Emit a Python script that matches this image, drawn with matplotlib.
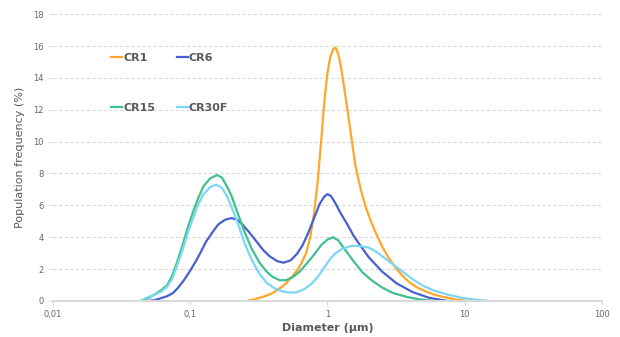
import numpy as np
import matplotlib.pyplot as plt
from matplotlib.ticker import FixedLocator, FixedFormatter, NullLocator

# CR1
cr1_x = [0.26, 0.3, 0.35, 0.4, 0.45, 0.5, 0.55, 0.6, 0.65, 0.7, 0.75, 0.8, 0.85, 0.9,
         0.95, 1.0, 1.05, 1.1, 1.15, 1.2, 1.25, 1.32, 1.4, 1.5, 1.6, 1.75, 1.9, 2.1,
         2.3, 2.55, 2.8, 3.2, 3.6, 4.0, 4.5, 5.2, 6, 7, 8.5, 10.5]
cr1_y = [0, 0.12, 0.3, 0.5, 0.8, 1.1, 1.5, 1.9, 2.4, 3.0, 4.0, 5.5, 7.5, 10.0,
         12.5, 14.3, 15.3, 15.8, 15.9, 15.5, 14.8, 13.5, 12.0, 10.2, 8.5, 7.0, 5.9, 4.9,
         4.1, 3.3, 2.7, 2.0, 1.5, 1.15, 0.85, 0.6, 0.4, 0.25, 0.1, 0]

# CR6
cr6_x = [0.05, 0.055, 0.06, 0.068, 0.075, 0.082, 0.09, 0.1, 0.11, 0.12, 0.13, 0.145,
         0.16, 0.18, 0.2, 0.22, 0.24, 0.27, 0.3, 0.34, 0.38, 0.43, 0.48, 0.54, 0.6,
         0.66, 0.72, 0.8, 0.88, 0.95, 1.0, 1.06, 1.15, 1.25, 1.4, 1.55, 1.7, 2.0, 2.5,
         3.2, 4.2, 5.5, 7.5]
cr6_y = [0, 0.05, 0.15, 0.3, 0.5, 0.85, 1.3, 1.9, 2.5, 3.1, 3.7, 4.3,
         4.8, 5.1, 5.2, 5.1, 4.8, 4.3, 3.8, 3.2, 2.8, 2.5, 2.4, 2.55, 2.95,
         3.5, 4.2, 5.2, 6.1, 6.55, 6.7, 6.6, 6.1, 5.5, 4.8, 4.1, 3.6, 2.75, 1.85,
         1.1, 0.55, 0.2, 0]

# CR15
cr15_x = [0.045, 0.05, 0.055, 0.062, 0.068, 0.074, 0.08, 0.088, 0.096, 0.105, 0.115,
          0.125, 0.14, 0.157, 0.17, 0.185, 0.2, 0.22, 0.25, 0.28, 0.32, 0.36, 0.4,
          0.45, 0.5, 0.56, 0.63, 0.7, 0.8, 0.9, 1.0, 1.1, 1.2, 1.35, 1.55, 1.8, 2.1,
          2.5, 3.0, 3.8, 4.7, 5.9]
cr15_y = [0, 0.2, 0.4, 0.7, 1.0, 1.6, 2.4, 3.5, 4.6, 5.6, 6.5,
          7.2, 7.7, 7.9, 7.75, 7.2, 6.6, 5.6, 4.3, 3.3, 2.4, 1.85, 1.5,
          1.3, 1.3, 1.5, 1.85, 2.3, 2.9, 3.5, 3.85, 4.0, 3.8, 3.2, 2.5, 1.8, 1.3,
          0.85, 0.5, 0.25, 0.1, 0]

# CR30F
cr30f_x = [0.043, 0.048, 0.055, 0.062, 0.068, 0.074, 0.08, 0.088, 0.096, 0.105, 0.115,
           0.125, 0.14, 0.155, 0.17, 0.185, 0.2, 0.22, 0.25, 0.28, 0.32, 0.36, 0.41,
           0.47, 0.54, 0.6, 0.68, 0.76, 0.85, 0.95, 1.05, 1.15, 1.3, 1.5, 1.7, 2.0,
           2.3, 2.7, 3.4, 4.2, 5.0, 6.0, 7.5, 9.5, 12, 15]
cr30f_y = [0, 0.2, 0.4, 0.6, 0.9, 1.4, 2.2, 3.2, 4.3, 5.2, 6.1,
           6.7, 7.15, 7.3, 7.1, 6.6, 5.9, 5.0, 3.6, 2.6, 1.7, 1.15, 0.8,
           0.6, 0.52, 0.55, 0.75, 1.05, 1.5, 2.1, 2.65, 3.0, 3.3, 3.45, 3.45, 3.35,
           3.05, 2.6, 1.95, 1.35, 0.95, 0.65, 0.4, 0.2, 0.08, 0]

x_ticks = [0.01, 0.1, 1, 10, 100]
x_labels = ['0,01', '0,1', '1', '10', '100']
y_ticks = list(range(0, 20, 2))

fig = plt.figure(figsize=(6.2, 3.37), dpi=100)
ax = fig.add_axes([0.0855, 0.107, 0.885, 0.851])

grey = '#595959'
l1, = ax.plot(cr1_x, cr1_y, color='#ffa62b', lw=1.6, label='CR1')
l6, = ax.plot(cr6_x, cr6_y, color='#4660d1', lw=1.6, label='CR6')
l15, = ax.plot(cr15_x, cr15_y, color='#40c08c', lw=1.6, label='CR15')
l30, = ax.plot(cr30f_x, cr30f_y, color='#7ad6f2', lw=1.6, label='CR30F')

ax.set_xscale('log')
ax.set_xlim(0.01, 100)
ax.set_ylim(0, 18)
ax.xaxis.set_major_locator(FixedLocator(x_ticks))
ax.xaxis.set_major_formatter(FixedFormatter(x_labels))
ax.xaxis.set_minor_locator(NullLocator())
ax.set_yticks(y_ticks)

ax.grid(axis='y', color='#d9d9d9', ls=(0, (3, 2)), lw=0.8)
ax.set_axisbelow(True)
for s in ['top', 'right', 'left']:
    ax.spines[s].set_visible(False)
ax.spines['bottom'].set_color('#d9d9d9')
ax.spines['bottom'].set_linewidth(1.5)
ax.tick_params(axis='both', labelsize=6, colors='#d9d9d9', labelcolor='#666666', length=3)

ax.set_xlabel('Diameter (µm)', fontsize=8, fontweight='bold', color=grey, labelpad=3)
ax.set_ylabel('Population frequency (%)', fontsize=8, color=grey, labelpad=6)

# legend in rows: CR1 CR6 / CR15 CR30F
leg = ax.legend([l1, l15, l6, l30], ['CR1', 'CR15', 'CR6', 'CR30F'], ncol=2,
                loc='upper left', bbox_to_anchor=(0.106, 0.865), frameon=False,
                borderpad=0, borderaxespad=0, handlelength=1.0, handletextpad=0.1,
                labelspacing=3.6, columnspacing=1.9,
                prop={'size': 8, 'weight': 'bold'})
for t in leg.get_texts():
    t.set_color(grey)

fig.savefig('out.png', dpi=100)
